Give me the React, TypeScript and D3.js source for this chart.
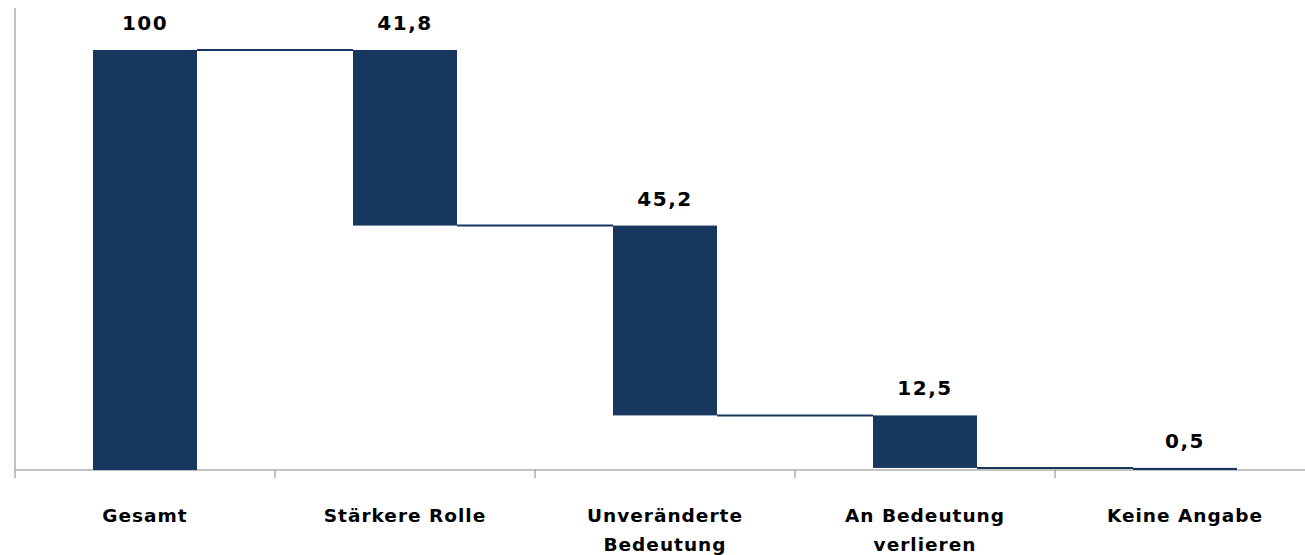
import React from "react";
import * as d3 from "d3";

const categories = ["Gesamt", "Stärkere Rolle", "Unveränderte|Bedeutung", "An Bedeutung|verlieren", "Keine Angabe"];
const values = [100, 41.8, 45.2, 12.5, 0.5];
const labels = ["100", "41,8", "45,2", "12,5", "0,5"];

export default function App() {
  const W = 1305, H = 555;
  const x0 = 15, x1 = 1315;
  const x = d3.scaleBand().domain(categories).range([x0, x1]).paddingInner(0.6).paddingOuter(0.3);
  const band = d3.scaleBand().domain(categories).range([x0, x1]);
  const y = d3.scaleLinear().domain([0, 110]).range([470, 8]);
  const bars: { top: number; bottom: number }[] = [];
  let level = values[0];
  values.forEach((v, i) => {
    if (i === 0) bars.push({ top: v, bottom: 0 });
    else { bars.push({ top: level, bottom: level - v }); level -= v; }
  });
  const color = "#17375e";
  const font = "Verdana, 'DejaVu Sans', sans-serif";
  return (
    <svg width={W} height={H} style={{ position: "absolute", left: 0, top: 0 }}>
      <line x1={x0} x2={x0} y1={8} y2={470} stroke="#868686" />
      <line x1={x0} x2={W} y1={470} y2={470} stroke="#868686" />
      {categories.map((c, i) => (
        <line key={"t" + i} x1={band(c)!} x2={band(c)!} y1={470} y2={478} stroke="#868686" />
      ))}
      {bars.map((b, i) => i < bars.length - 1 ? (
        <line key={"c" + i} x1={x(categories[i])! + x.bandwidth()} x2={x(categories[i + 1])!}
          y1={y(bars[i + 1].top)} y2={y(bars[i + 1].top)} stroke={color} strokeWidth={2} />
      ) : null)}
      {bars.map((b, i) => (
        <rect key={"b" + i} x={x(categories[i])!} width={x.bandwidth()} y={y(b.top)}
          height={Math.max(2, y(b.bottom) - y(b.top))} fill={color} />
      ))}
      {bars.map((b, i) => (
        <text key={"l" + i} x={x(categories[i])! + x.bandwidth() / 2} y={y(b.top) - 20}
          textAnchor="middle" fontFamily={font} fontWeight="bold" fontSize={20} letterSpacing={1.5} fill="#000">{labels[i]}</text>
      ))}
      {categories.map((c, i) => (
        <text key={"x" + i} x={band(c)! + band.bandwidth() / 2} y={522} textAnchor="middle"
          fontFamily={font} fontWeight="bold" fontSize={18.5} letterSpacing={1} fill="#000">
          {c.split("|").map((s, j) => <tspan key={j} x={band(c)! + band.bandwidth() / 2} dy={j ? 29 : 0}>{s}</tspan>)}
        </text>
      ))}
    </svg>
  );
}
